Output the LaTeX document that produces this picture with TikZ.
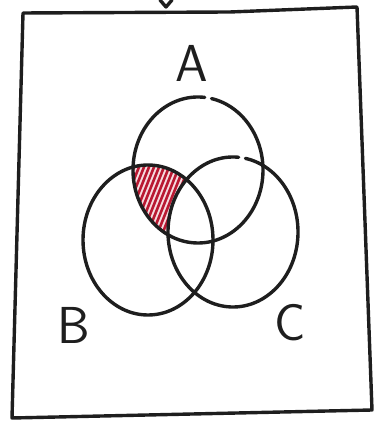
\documentclass[tikz,border=0pt]{standalone}
\usetikzlibrary{positioning}
\definecolor{inkblack}{RGB}{30,30,30}
\definecolor{hatchred}{RGB}{185,25,50}
\tikzset{
    % Frame around the universe - thick ink line
    frame line/.style={draw=inkblack, line width=3.4pt, line join=round, line cap=round},
    % Set outlines - thick ink circles
    set line/.style={draw=inkblack, line width=3.4pt, line cap=round},
    % Hatching strokes - red
    hatch line/.style={draw=hatchred, line width=2.6pt, line cap=round},
    % Set labels
    set label/.style={font=\fontsize{52}{52}\selectfont\sffamily, text=inkblack, inner sep=0pt}
}

\begin{document}
\begin{tikzpicture}[x=1pt, y=1pt]
    \useasboundingbox (0,0) rectangle (382,427);

    % --- Set up coordinates ---
    \coordinate (TL) at (23,414);
    \coordinate (TM) at (230,415);
    \coordinate (TR) at (357,420);
    \coordinate (BR) at (372,17);
    \coordinate (BL) at (12,9);
    \coordinate (cA) at (198,257);
    \coordinate (cB) at (148,187);
    \coordinate (cC) at (233,195);

    % --- Hatched region: A and B, outside C ---
    \begin{scope}[even odd rule]
        \clip (cA) ellipse[x radius=65, y radius=73];
        \clip (cB) ellipse[x radius=65, y radius=75];
        \clip (0,0) rectangle (382,427) (cC) ellipse[x radius=65, y radius=75];
        \fill[hatchred!15] (0,0) rectangle (382,427);
        \foreach \x in {20,25,...,230}
            \draw[hatch line] (\x,150) -- ++(60,150);
    \end{scope}

    % --- Draw sets ---
    \draw[set line] (cA) ++(84:65 and 73) arc[start angle=84, end angle=438, x radius=65, y radius=73];
    \draw[set line] (cB) ellipse[x radius=65, y radius=75];
    \draw[set line] (cC) ++(85:65 and 75) arc[start angle=85, end angle=439, x radius=65, y radius=75];

    % --- Labels ---
    \node[set label] (labelA) at (192,364) {A};
    \node[set label] (labelB) at (74,102) {B};
    \node[set label] (labelC) at (290,104) {C};

    % --- Frame ---
    \draw[frame line] (TL) -- (TM) -- (TR) -- (BR) -- (BL) -- cycle;
    \coordinate (stubL) at (160,427);
    \coordinate (stubM) at (166,420);
    \coordinate (stubR) at (172,427);
    \draw[frame line] (stubL) -- (stubM) -- (stubR);

\end{tikzpicture}
\end{document}
